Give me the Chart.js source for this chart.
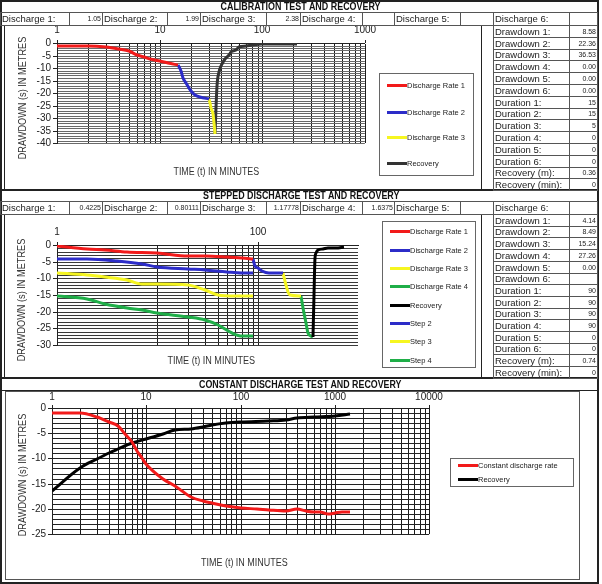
<!DOCTYPE html>
<html>
<head>
<meta charset="utf-8">
<script src="https://cdn.jsdelivr.net/npm/chart.js@4.4.0/dist/chart.umd.min.js"></script>
<style>
  html, body { margin: 0; padding: 0; background: #fff; }
  body { width: 602px; height: 584px; position: relative; overflow: hidden;
         font-family: "Liberation Sans", Arial, sans-serif; color: #111; }
  .cell { position: absolute; box-sizing: border-box; border: 1px solid #555; font-size: 9.5px;
          white-space: nowrap; overflow: hidden; padding: 0 1px; color: #222; }
  .num { text-align: right; font-size: 7px; }
  .rule { position: absolute; background: #222; }
  .txt { position: absolute; white-space: nowrap; font-size: 10px; line-height: 12px; color: #333; }
  .title { font-weight: bold; font-size: 10px; color: #111; }
  canvas { position: absolute; }
  .legend { position: absolute; box-sizing: border-box; border: 1px solid #666; background: #fff; }
  .lg-line { position: absolute; left: 7px; width: 20px; height: 3px; }
  .lg-text { position: absolute; left: 27px; font-size: 7.5px; color: #222; white-space: nowrap; }
</style>
</head>
<body>
<canvas id="calChart" width="380" height="160" style="left:0;top:25px"></canvas>
<canvas id="stepChart" width="380" height="160" style="left:0;top:214px"></canvas>
<canvas id="constChart" width="440" height="156" style="left:5px;top:390px"></canvas>
<script>
// ---- calibration test ----
const calRate1T = [1, 2, 3, 4, 5, 6, 7, 8, 10, 12, 15];
const calRate1S = [-1.2, -1.3, -1.5, -2.3, -3.2, -4.8, -5.8, -6.4, -7.3, -7.9, -8.6];
const calRate2T = [15, 16, 17, 18, 20, 22, 25, 30];
const calRate2S = [-8.6, -11, -14, -16, -19, -20.8, -21.7, -22.4];
const calRate3T = [30, 31, 32, 33, 34, 35];
const calRate3S = [-22.4, -24, -26, -28.5, -32, -36.5];
const calRecT = [35, 36, 38, 40, 43, 47, 50, 55, 60, 70, 80, 100, 150, 220];
const calRecS = [-36.5, -17, -11.5, -9, -6.3, -4.6, -3.6, -2.6, -1.8, -1, -0.6, -0.4, -0.4, -0.4];
const calXLabels = [1, 10, 100, 1000];
const calYLabels = [0, -5, -10, -15, -20, -25, -30, -35, -40];
const calDischarge = ["1.05", "1.99", "2.38", "", ""];
const calSide = ["8.58", "22.36", "36.53", "0.00", "0.00", "0.00", "15", "15", "5", "0", "0", "0", "0.36", "0"];

// ---- stepped discharge test ----
const stepRate1T = [1, 2, 3, 5, 10, 20, 30, 50, 70, 90];
const stepRate1S = [-0.4, -1.1, -1.5, -2, -2.5, -3.2, -3.4, -3.7, -3.9, -4.1];
const stepRate2T = [1, 2, 4, 7, 10, 20, 30, 50, 70, 90];
const stepRate2S = [-4.1, -4.2, -4.8, -5.6, -6.5, -7.3, -7.6, -8.1, -8.4, -8.5];
const stepRate3T = [1, 2, 3, 5, 7, 10, 20, 30, 40, 60, 90];
const stepRate3S = [-8.5, -9, -9.5, -10.6, -11.6, -11.8, -12.1, -13.4, -14.9, -15.2, -15.2];
const stepRate4T = [1, 2, 3, 5, 7, 10, 20, 30, 40, 55, 70, 90];
const stepRate4S = [-15.4, -16.3, -17.8, -19, -19.6, -20.4, -21.5, -22.5, -24, -26.3, -27.2, -27.3];
const stepRecT = [360, 365, 370, 380, 400, 450, 500, 600, 720];
const stepRecS = [-27.7, -15, -4, -2.5, -1.6, -1.2, -1, -0.8, -0.5];
const step2T = [90, 95, 100, 110, 130, 180];
const step2S = [-4.1, -6.2, -7, -7.7, -8.3, -8.5];
const step3T = [180, 190, 200, 210, 270];
const step3S = [-8.5, -12, -14, -15.1, -15.2];
const step4T = [270, 280, 300, 320, 340, 360];
const step4S = [-15.2, -19, -23.5, -26.5, -27.2, -27.5];
const stepXLabels = [1, 100];
const stepYLabels = [0, -5, -10, -15, -20, -25, -30];
const stepDischarge = ["0.4225", "0.80111", "1.17778", "1.6375", ""];
const stepSide = ["4.14", "8.49", "15.24", "27.26", "0.00", "", "90", "90", "90", "90", "0", "0", "0.74", "0"];

// ---- constant discharge test ----
const constRateT = [1, 2, 3, 4, 5, 6, 7, 8, 9, 10, 15, 20, 30, 40, 50, 70, 100, 150, 200, 300, 400, 500, 600, 700, 850, 1000, 1200, 1440];
const constRateS = [-0.9, -0.9, -1.7, -2.8, -3.6, -5.2, -6.8, -8.6, -10, -11.2, -14, -15.5, -17.6, -18.4, -18.9, -19.4, -19.8, -20, -20.2, -20.4, -20.1, -20.4, -20.6, -20.6, -21, -20.9, -20.6, -20.7];
const constRecT = [1, 2, 3, 4, 5, 7, 10, 15, 20, 30, 40, 50, 70, 100, 200, 300, 400, 600, 1000, 1440];
const constRecS = [-16.5, -12, -10.1, -9, -8.2, -7, -6.1, -5.2, -4.4, -4.2, -3.8, -3.3, -3, -2.8, -2.5, -2.3, -2, -1.8, -1.5, -1.25];
const constXLabels = [1, 10, 100, 1000, 10000];
const constYLabels = [0, -5, -10, -15, -20, -25];

const dischargeNames = ["Discharge 1:", "Discharge 2:", "Discharge 3:", "Discharge 4:", "Discharge 5:"];
const sideNames = ["Drawdown 1:", "Drawdown 2:", "Drawdown 3:", "Drawdown 4:", "Drawdown 5:", "Drawdown 6:",
  "Duration 1:", "Duration 2:", "Duration 3:", "Duration 4:", "Duration 5:", "Duration 6:",
  "Recovery (m):", "Recovery (min):"];

const RED = "#f21a1a", BLUE = "#2c2cc8", YELLOW = "#f6f620", GREEN = "#1fae48";

const pts = (t, s) => t.map((x, i) => ({ x, y: s[i] }));

const add = (el) => { document.body.appendChild(el); return el; };

const rule = (x, y, w, h) => {
  const d = document.createElement("div");
  d.className = "rule";
  Object.assign(d.style, { left: x + "px", top: y + "px", width: w + "px", height: h + "px" });
  return add(d);
};

const cell = (x, y, w, h, text, cls) => {
  const d = document.createElement("div");
  d.className = "cell " + (cls || "");
  Object.assign(d.style, { left: x + "px", top: y + "px", width: w + "px", height: h + "px", lineHeight: (h - 2) + "px" });
  d.textContent = text;
  return add(d);
};

// text placed by its centre and squeezed to a target width
const label = (text, cx, cy, width, cls, rotate) => {
  const d = document.createElement("div");
  d.className = "txt " + (cls || "");
  d.textContent = text;
  add(d);
  const w = d.offsetWidth, h = d.offsetHeight;
  const sx = width / w;
  d.style.left = (cx - w / 2) + "px";
  d.style.top = (cy - h / 2) + "px";
  d.style.transformOrigin = "50% 50%";
  d.style.transform = (rotate ? "rotate(-90deg) " : "") + "scaleX(" + sx.toFixed(3) + ")";
  return d;
};

const dischargeCols = [[0, 70, 69, 34], [102, 66, 167, 34], [200, 67, 266, 35], [300, 63, 362, 33], [394, 67, 460, 34]];

const dischargeRow = (y, values) => {
  dischargeCols.forEach(([lx, lw, vx, vw], i) => {
    cell(lx, y, lw, 14, dischargeNames[i]);
    cell(vx, y, vw, 14, values[i], "num");
  });
  cell(493, y, 77, 14, "Discharge 6:");
  cell(569, y, 29, 14, "", "num");
};

const sideTable = (top, rowH, values) => {
  sideNames.forEach((name, i) => {
    const y = Math.round(top + i * rowH);
    const h = Math.round(top + (i + 1) * rowH) - y + 1;
    cell(493, y, 77, h, name);
    cell(569, y, 29, h, values[i], "num");
  });
};

const legendBox = (chart, x, y, w, h, rows) => {
  const box = document.createElement("div");
  box.className = "legend";
  Object.assign(box.style, { left: x + "px", top: y + "px", width: w + "px", height: h + "px" });
  chart.data.datasets.forEach((ds, i) => {
    const line = document.createElement("div");
    line.className = "lg-line";
    line.style.top = (rows[i] - 2) + "px";
    line.style.background = ds.borderColor;
    const t = document.createElement("div");
    t.className = "lg-text";
    t.style.top = (rows[i] - 5) + "px";
    t.textContent = ds.label;
    box.appendChild(line);
    box.appendChild(t);
  });
  add(box);
};

const logTicks = (min, max) => {
  const out = [];
  for (let d = min; d < max; d *= 10) {
    for (let m = 1; m <= 9; m++) out.push(d * m);
  }
  out.push(max);
  return out;
};

const buildChart = (id, datasets, cfg) => {
  const showV = cfg.vGrid || (() => true);
  return new Chart(document.getElementById(id), {
    type: "line",
    data: { datasets },
    options: {
      responsive: false,
      animation: false,
      events: [],
      layout: { padding: cfg.padding },
      elements: {
        point: { radius: 0 },
        line: { borderWidth: 3, cubicInterpolationMode: "monotone", fill: false },
      },
      plugins: { legend: { display: false }, tooltip: { enabled: false } },
      scales: {
        x: {
          type: "logarithmic",
          position: "top",
          min: cfg.xMin,
          max: cfg.xMax,
          alignToPixels: true,
          afterBuildTicks: (axis) => { axis.ticks = logTicks(cfg.xMin, cfg.xMax).map((value) => ({ value })); },
          afterFit: (axis) => { axis.height = cfg.xAxisHeight; },
          border: { display: true, color: "#222" },
          grid: {
            color: (c) => (c.tick && showV(c.tick.value) ? "#1a1a1a" : "rgba(0,0,0,0)"),
            tickLength: 3,
            tickColor: (c) => (c.tick && cfg.xLabels.includes(c.tick.value) ? "#222" : "rgba(0,0,0,0)"),
          },
          ticks: {
            autoSkip: false,
            maxRotation: 0,
            padding: cfg.xPad,
            color: "#222",
            font: { family: "Liberation Sans", size: 10 },
            callback: (v) => (cfg.xLabels.includes(v) ? String(v) : ""),
          },
        },
        y: {
          type: "linear",
          min: cfg.yMin,
          max: 0,
          alignToPixels: true,
          afterBuildTicks: (axis) => {
            const t = [];
            for (let v = cfg.yMin; v <= 0; v++) t.push({ value: v });
            axis.ticks = t;
          },
          afterFit: (axis) => { axis.width = cfg.yAxisWidth; },
          border: { display: true, color: "#222" },
          grid: {
            color: cfg.hColor,
            tickLength: 4,
            tickColor: (c) => (c.tick && cfg.yLabels.includes(c.tick.value) ? "#222" : "rgba(0,0,0,0)"),
          },
          ticks: {
            autoSkip: false,
            padding: 2,
            color: "#222",
            font: { family: "Liberation Sans", size: 10 },
            callback: (v) => (cfg.yLabels.includes(v) ? String(v) : ""),
          },
        },
      },
    },
  });
};

const ds = (lbl, t, s, color) => ({ label: lbl, data: pts(t, s), borderColor: color, backgroundColor: color });

// ---- frame ----
rule(0, 0, 599, 2);
rule(0, 0, 2, 584);
rule(597, 0, 2, 584);
rule(0, 582, 599, 2);
rule(0, 12, 599, 1);
rule(0, 189, 599, 2);
rule(0, 201, 599, 1);
rule(0, 377, 599, 2);
rule(0, 390, 599, 1);
rule(4, 25, 1, 165);
rule(481, 25, 1, 165);
rule(4, 214, 1, 164);
rule(481, 214, 1, 164);
const box3 = document.createElement("div");
Object.assign(box3.style, { position: "absolute", left: "5px", top: "391px", width: "575px", height: "189px", border: "1px solid #555", boxSizing: "border-box" });
add(box3);

label("CALIBRATION TEST AND RECOVERY", 300, 7, 160, "title");
label("STEPPED DISCHARGE TEST AND RECOVERY", 301, 196, 196, "title");
label("CONSTANT DISCHARGE TEST AND RECOVERY", 300, 385, 203, "title");

dischargeRow(12, calDischarge);
sideTable(25, 11.8, calSide);
dischargeRow(201, stepDischarge);
sideTable(214, 11.7, stepSide);

// ---- charts ----
const calChart = buildChart("calChart", [
  ds("Discharge Rate 1", calRate1T, calRate1S, RED),
  ds("Discharge Rate 2", calRate2T, calRate2S, BLUE),
  ds("Discharge Rate 3", calRate3T, calRate3S, YELLOW),
  ds("Recovery", calRecT, calRecS, "#333333"),
], {
  xMin: 1, xMax: 1000, yMin: -40, xLabels: calXLabels, yLabels: calYLabels,
  xAxisHeight: 18, yAxisWidth: 57, xPad: 4, hColor: "#6a6a6a",
  padding: { top: 0, left: 0, right: 13, bottom: 42 },
});

const stepChart = buildChart("stepChart", [
  ds("Discharge Rate 1", stepRate1T, stepRate1S, RED),
  ds("Discharge Rate 2", stepRate2T, stepRate2S, BLUE),
  ds("Discharge Rate 3", stepRate3T, stepRate3S, YELLOW),
  ds("Discharge Rate 4", stepRate4T, stepRate4S, GREEN),
  ds("Recovery", stepRecT, stepRecS, "#000000"),
  ds("Step 2", step2T, step2S, BLUE),
  ds("Step 3", step3T, step3S, YELLOW),
  ds("Step 4", step4T, step4S, GREEN),
], {
  xMin: 1, xMax: 1000, yMin: -30, xLabels: stepXLabels, yLabels: stepYLabels,
  xAxisHeight: 18, yAxisWidth: 57, xPad: 4, hColor: "#3a3a3a",
  vGrid: (v) => v >= 10 && v <= 100,
  padding: { top: 13, left: 0, right: 22, bottom: 29 },
});

const constChart = buildChart("constChart", [
  ds("Constant discharge rate", constRateT, constRateS, RED),
  ds("Recovery", constRecT, constRecS, "#000000"),
], {
  xMin: 1, xMax: 10000, yMin: -25, xLabels: constXLabels, yLabels: constYLabels,
  xAxisHeight: 18, yAxisWidth: 47, xPad: 2, hColor: "#222222",
  padding: { top: 0, left: 0, right: 15, bottom: 12 },
});

legendBox(calChart, 379, 73, 95, 103, [12, 39, 64, 90]);
legendBox(stepChart, 382, 221, 94, 147, [10, 29, 47, 65, 84, 102, 120, 139]);
legendBox(constChart, 450, 458, 124, 29, [7, 21]);

// axis titles
[[23, 98], [22, 300], [23, 475]].forEach(([x, y]) => label("DRAWDOWN  (s) IN METRES", x, y, 123, "", true));
label("TIME  (t) IN MINUTES", 216, 172, 86);
label("TIME  (t) IN MINUTES", 211, 361, 88);
label("TIME  (t) IN MINUTES", 244, 563, 87);
</script>
</body>
</html>
